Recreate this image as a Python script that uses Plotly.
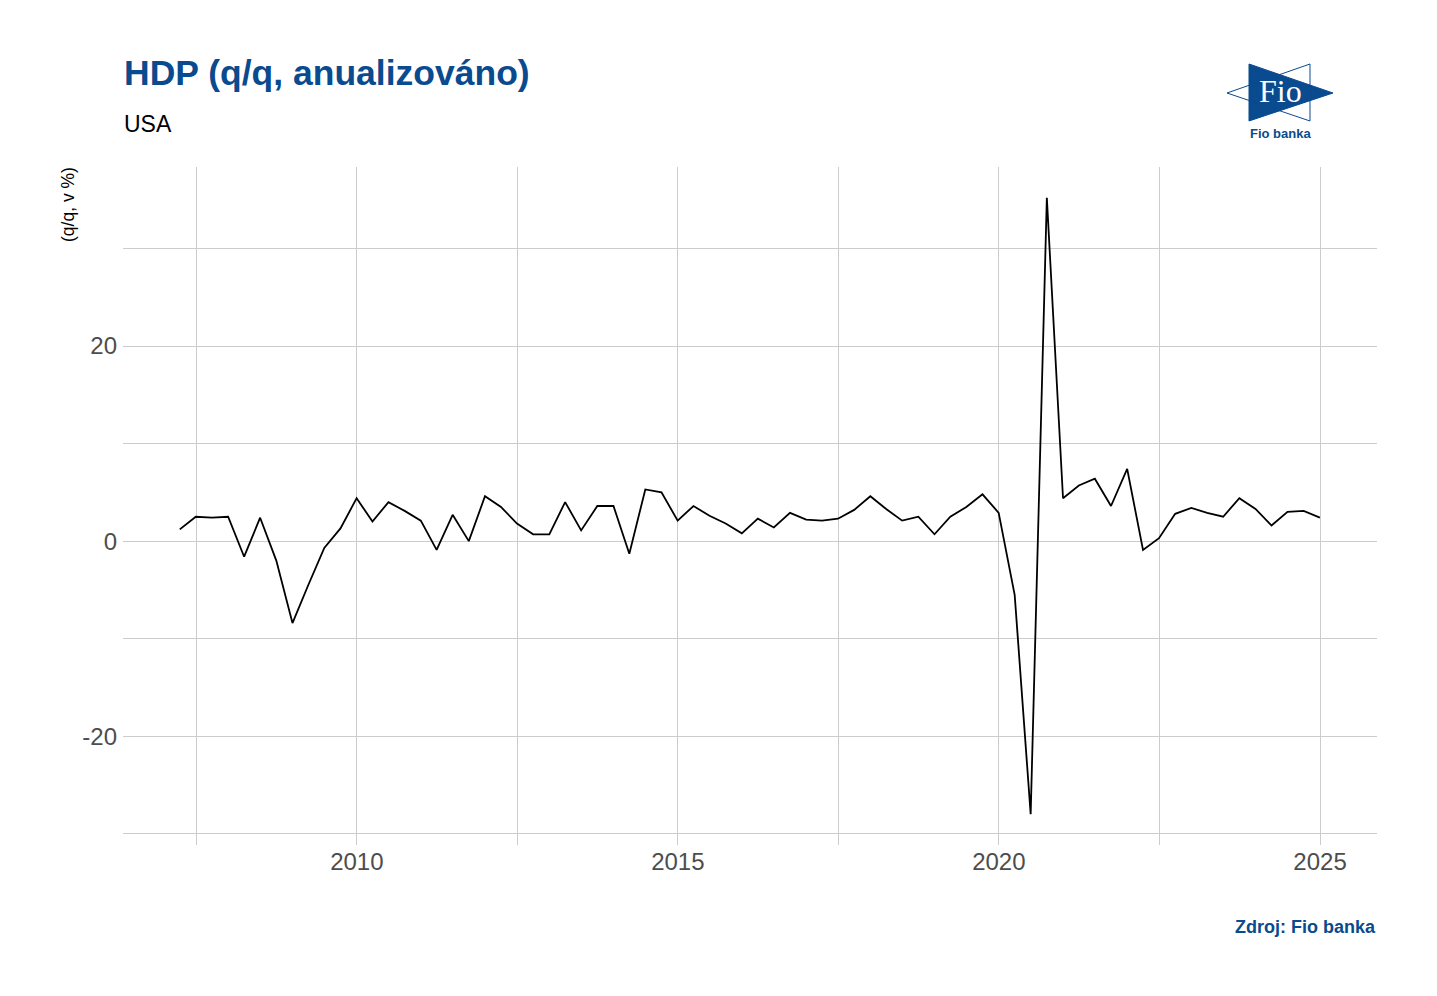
import plotly.graph_objects as go

# ---- data -------------------------------------------------------------
years = list(range(2007, 2025))
quarter_ends = ["03-31", "06-30", "09-30", "12-31"]
gdp_qq = [
    1.2, 2.5, 2.4, 2.5,      # 2007
    -1.6, 2.4, -2.0, -8.4,   # 2008
    -4.5, -0.7, 1.3, 4.4,    # 2009
    2.0, 4.0, 3.1, 2.1,      # 2010
    -0.9, 2.7, 0.0, 4.6,     # 2011
    3.5, 1.8, 0.7, 0.7,      # 2012
    4.0, 1.1, 3.6, 3.6,      # 2013
    -1.3, 5.3, 5.0, 2.1,     # 2014
    3.6, 2.6, 1.8, 0.8,      # 2015
    2.3, 1.4, 2.9, 2.2,      # 2016
    2.1, 2.3, 3.2, 4.6,      # 2017
    3.3, 2.1, 2.5, 0.7,      # 2018
    2.5, 3.5, 4.8, 2.9,      # 2019
    -5.5, -28.0, 35.2, 4.4,  # 2020
    5.7, 6.4, 3.6, 7.4,      # 2021
    -0.9, 0.3, 2.8, 3.4,     # 2022
    2.9, 2.5, 4.4, 3.3,      # 2023
    1.6, 3.0, 3.1, 2.4,      # 2024
]
dates = [f"{y}-{q}" for y in years for q in quarter_ends]

x_major = ["2010-01-01", "2015-01-01", "2020-01-01", "2025-01-01"]
x_major_text = ["2010", "2015", "2020", "2025"]
x_minor = ["2007-07-02", "2012-07-02", "2017-07-02", "2022-07-02"]
y_major = [-20, 0, 20]
y_minor = [-30, -10, 10, 30]

title = "HDP (q/q, anualizováno)"
subtitle = "USA"
y_title = "(q/q, v %)"
source = "Zdroj: Fio banka"

# ---- layout geometry (page pixels; page body has an 8px offset) -------
OFF = 8
W, H = 1437 - OFF, 996 - OFF
L, R, T, B = 123, 1377, 167, 845          # plot area in page pixels
BLUE = "#0A4A8E"
FONT = "Liberation Sans, Arial, sans-serif"


def px(xpix):
    return (xpix - L) / (R - L)


def py(ypix):
    return (B - ypix) / (B - T)


fig = go.Figure()
fig.add_trace(go.Scatter(
    x=dates, y=gdp_qq, mode="lines",
    line=dict(color="black", width=1.8),
    hoverinfo="x+y", showlegend=False,
))

grid = "#CCCCCC"
fig.update_layout(
    width=W, height=H,
    margin=dict(l=L - OFF, r=W - (R - OFF), t=T - OFF, b=H - (B - OFF), pad=0),
    paper_bgcolor="white", plot_bgcolor="white",
    font=dict(family=FONT, color="#4D4D4D"),
    xaxis=dict(
        type="date",
        range=["2006-05-12", "2025-11-21"],
        tickvals=x_major, ticktext=x_major_text,
        showgrid=True, gridcolor=grid, gridwidth=1,
        minor=dict(tickvals=x_minor, showgrid=True, gridcolor=grid, gridwidth=1),
        zeroline=False, showline=False, ticks="",
        tickfont=dict(size=24, color="#4D4D4D"),
        fixedrange=True,
    ),
    yaxis=dict(
        range=[-31.16, 38.36],
        tickvals=y_major, ticktext=[str(v) for v in y_major],
        showgrid=True, gridcolor=grid, gridwidth=1,
        minor=dict(tickvals=y_minor, showgrid=True, gridcolor=grid, gridwidth=1),
        zeroline=False, showline=False, ticks="",
        ticklabelstandoff=5,
        tickfont=dict(size=24, color="#4D4D4D"),
        fixedrange=True,
    ),
)

ann = []
ann.append(dict(text=f"<b>{title}</b>", x=px(122), y=py(73), xref="paper", yref="paper",
                xanchor="left", yanchor="middle", showarrow=False,
                font=dict(size=35.5, color=BLUE, family=FONT)))
ann.append(dict(text=subtitle, x=px(122), y=py(124), xref="paper", yref="paper",
                xanchor="left", yanchor="middle", showarrow=False,
                font=dict(size=23, color="black", family=FONT)))
ann.append(dict(text=y_title, x=px(68), y=py(205), xref="paper", yref="paper",
                xanchor="center", yanchor="middle", showarrow=False, textangle=-90,
                font=dict(size=17.5, color="black", family=FONT)))
ann.append(dict(text=f"<b>{source}</b>", x=px(1378), y=py(927), xref="paper", yref="paper",
                xanchor="right", yanchor="middle", showarrow=False,
                font=dict(size=18, color=BLUE, family=FONT)))
# logo texts
ann.append(dict(text="Fio", x=px(1280), y=py(91), xref="paper", yref="paper",
                xanchor="center", yanchor="middle", showarrow=False,
                font=dict(size=32, color="white", family="Liberation Serif, serif")))
ann.append(dict(text="<b>Fio banka</b>", x=px(1280), y=py(133), xref="paper", yref="paper",
                xanchor="center", yanchor="middle", showarrow=False,
                font=dict(size=13, color=BLUE, family=FONT)))
fig.update_layout(annotations=ann)


def path(points):
    return "M " + " L ".join(f"{px(a):.5f},{py(b):.5f}" for a, b in points) + " Z"


shapes = [
    # right-pointing filled triangle
    dict(type="path", xref="paper", yref="paper",
         path=path([(1249, 64), (1249, 121), (1333, 93)]),
         fillcolor=BLUE, line=dict(color=BLUE, width=1)),
    # left-pointing outlined triangle
    dict(type="path", xref="paper", yref="paper",
         path=path([(1310, 64), (1310, 121), (1227, 93)]),
         fillcolor="rgba(0,0,0,0)", line=dict(color=BLUE, width=1)),
]
fig.update_layout(shapes=shapes)

fig.write_html("out.html")
